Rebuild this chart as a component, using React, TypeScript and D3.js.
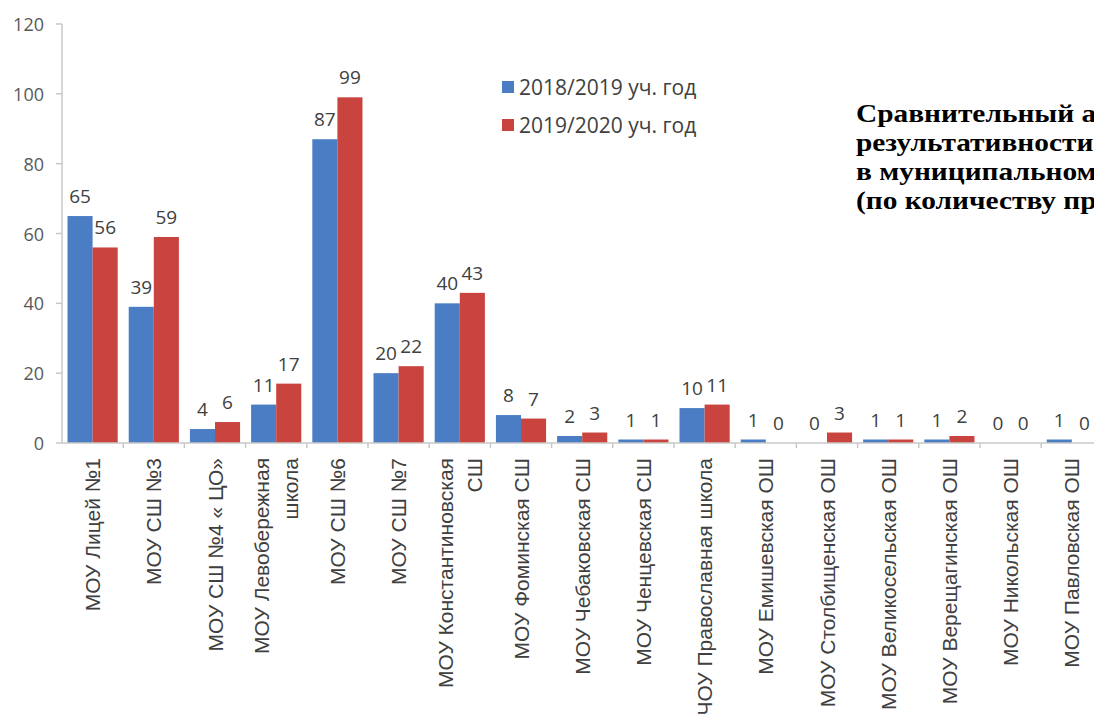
import React from "react";
import * as d3 from "d3";

const categories: string[] = [
  "МОУ Лицей №1",
  "МОУ СШ №3",
  "МОУ СШ №4 « ЦО»",
  "МОУ Левобережная\nшкола",
  "МОУ СШ №6",
  "МОУ СШ №7",
  "МОУ Константиновская\nСШ",
  "МОУ Фоминская СШ",
  "МОУ Чебаковская СШ",
  "МОУ Ченцевская СШ",
  "ЧОУ Православная школа",
  "МОУ Емишевская ОШ",
  "МОУ Столбищенская ОШ",
  "МОУ Великосельская ОШ",
  "МОУ Верещагинская ОШ",
  "МОУ Никольская ОШ",
  "МОУ Павловская ОШ",
];

const values2018: number[] = [65, 39, 4, 11, 87, 20, 40, 8, 2, 1, 10, 1, 0, 1, 1, 0, 1];
const values2019: number[] = [56, 59, 6, 17, 99, 22, 43, 7, 3, 1, 11, 0, 3, 1, 2, 0, 0];

const seriesNames: string[] = ["2018/2019 уч. год", "2019/2020 уч. год"];
const seriesColors: string[] = ["#4A7DC3", "#C9433F"];

const yTicks: number[] = [0, 20, 40, 60, 80, 100, 120];

const titleLines: string[] = [
  "Сравнительный а",
  "результативности",
  "в муниципальном",
  "(по количеству пр",
];

export default function App() {
  const W = 1094;
  const H = 719;
  const x0 = 62;
  const step = 61.2;
  const y = d3.scaleLinear().domain([0, 120]).range([443, 24]);
  const x = d3
    .scaleBand<number>()
    .domain(categories.map((_, i) => i))
    .range([x0, x0 + step * categories.length])
    .padding(0);
  const inner = d3
    .scaleBand<number>()
    .domain([0, 1])
    .range([0, x.bandwidth()])
    .paddingInner(0)
    .paddingOuter(0.22);
  const series = [values2018, values2019];
  const labelFont = "'Open Sans', 'Noto Sans', sans-serif";

  return (
    <div style={{ position: "absolute", left: 0, top: 0 }}>
      <svg width={W} height={H} style={{ display: "block", background: "#fff" }}>
        <rect x={0} y={0} width={W} height={H} fill="#fff" />
        {/* y axis */}
        <line x1={x0} x2={x0} y1={y(120)} y2={y(0)} stroke="#C8C8C8" strokeWidth={1.5} />
        {yTicks.map((t) => (
          <g key={t}>
            <line x1={x0 - 6} x2={x0} y1={y(t)} y2={y(t)} stroke="#C8C8C8" strokeWidth={1.5} />
            <text
              x={44}
              y={y(t)}
              textAnchor="end"
              dominantBaseline="central"
              fontFamily={labelFont}
              fontSize={18}
              fill="#595959"
            >
              {t}
            </text>
          </g>
        ))}
        {/* bars */}
        {series.map((vals, s) =>
          vals.map((v, i) => {
            const bx = (x(i) as number) + (inner(s) as number);
            return (
              <rect
                key={`b${s}-${i}`}
                x={bx}
                y={y(v)}
                width={inner.bandwidth()}
                height={y(0) - y(v)}
                fill={seriesColors[s]}
              />
            );
          })
        )}
        {/* x axis */}
        <line x1={x0} x2={W} y1={y(0)} y2={y(0)} stroke="#C8C8C8" strokeWidth={1.5} />
        {categories.map((_, i) => (
          <line
            key={`t${i}`}
            x1={(x(i) as number) + step}
            x2={(x(i) as number) + step}
            y1={y(0)}
            y2={y(0) + 5}
            stroke="#C8C8C8"
            strokeWidth={1.5}
          />
        ))}
        {/* value labels */}
        {series.map((vals, s) =>
          vals.map((v, i) => {
            const cx = (x(i) as number) + (inner(s) as number) + inner.bandwidth() / 2;
            return (
              <text
                key={`l${s}-${i}`}
                x={cx}
                y={y(v) - 13}
                textAnchor="middle"
                fontFamily={labelFont}
                fontSize={19}
                fill="#404040"
              >
                {v}
              </text>
            );
          })
        )}
        {/* category labels */}
        {categories.map((c, i) => {
          const lines = c.split("\n");
          const cx = (x(i) as number) + step / 2;
          return (
            <text
              key={`c${i}`}
              transform={`translate(${cx},458) rotate(-90)`}
              textAnchor="end"
              fontFamily="'Liberation Sans', Arial, sans-serif"
              fontSize={21}
              fill="#404040"
            >
              {lines.map((ln, k) => (
                <tspan
                  key={k}
                  x={0}
                  y={(k - (lines.length - 1) / 2) * 29}
                  dominantBaseline="central"
                >
                  {ln}
                </tspan>
              ))}
            </text>
          );
        })}
        {/* legend */}
        {seriesNames.map((n, s) => (
          <g key={`lg${s}`}>
            <rect x={502} y={81 + s * 38} width={12} height={12} fill={seriesColors[s]} />
            <text
              x={519}
              y={87 + s * 38}
              dominantBaseline="central"
              fontFamily={labelFont}
              fontSize={21}
              fill="#404040"
            >
              {n}
            </text>
          </g>
        ))}
        {/* title */}
        {titleLines.map((t, k) => (
          <text
            key={`tt${k}`}
            transform={`translate(856,${122 + k * 29}) scale(1.13,1)`}
            fontFamily="'Liberation Serif', 'Times New Roman', serif"
            fontWeight="bold"
            fontSize={26}
            fill="#000"
          >
            {t}
          </text>
        ))}
      </svg>
    </div>
  );
}
